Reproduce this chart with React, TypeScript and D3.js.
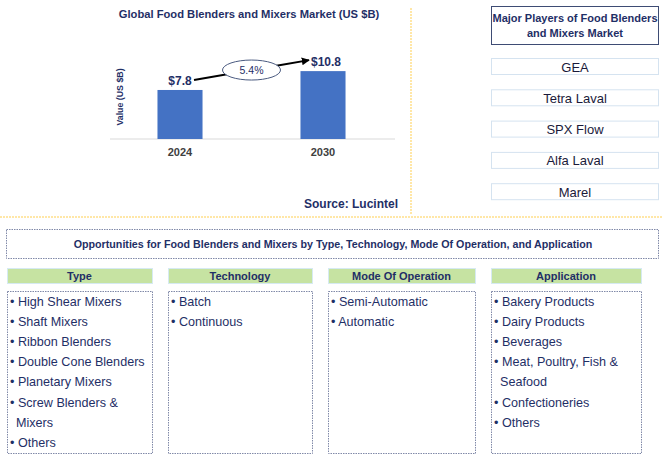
import { useEffect, useRef } from "react";
import * as d3 from "d3";

const years = ["2024", "2030"];
const values = [7.8, 10.8];
const valueLabels = ["$7.8", "$10.8"];
const cagr = "5.4%";
const players = ["GEA", "Tetra Laval", "SPX Flow", "Alfa Laval", "Marel"];
const segHeads = ["Type", "Technology", "Mode Of Operation", "Application"];
const segItems = [
  ["High Shear Mixers", "Shaft Mixers", "Ribbon Blenders", "Double Cone Blenders", "Planetary Mixers", "Screw Blenders &|Mixers", "Others"],
  ["Batch", "Continuous"],
  ["Semi-Automatic", "Automatic"],
  ["Bakery Products", "Dairy Products", "Beverages", "Meat, Poultry, Fish &|Seafood", "Confectioneries", "Others"],
];

const W = 664, H = 460;
const navy = "#1F2F66";
const font = "'Liberation Sans', Arial, sans-serif";

export default function App() {
  const svgRef = useRef<SVGSVGElement>(null);

  useEffect(() => {
    const svg = d3.select(svgRef.current);
    svg.selectAll("*").remove();
    svg.style("font-family", font);

    svg.append("defs").append("marker")
      .attr("id", "arr")
      .attr("viewBox", "0 0 10 10")
      .attr("refX", 9).attr("refY", 5)
      .attr("markerWidth", 4).attr("markerHeight", 4)
      .attr("orient", "auto")
      .append("path").attr("d", "M0,0L10,5L0,10z").attr("fill", "#000");

    // bar chart
    const x = d3.scaleBand().domain(years).range([108.5, 394.5]).paddingInner(0.685).paddingOuter(0.3425);
    const y = d3.scaleLinear().domain([0, 14]).range([139, 51]);

    svg.append("text").attr("x", 249).attr("y", 18).attr("text-anchor", "middle")
      .attr("font-size", 11.2).attr("font-weight", "bold").attr("fill", navy)
      .text("Global Food Blenders and Mixers Market (US $B)");

    svg.append("line").attr("x1", 110).attr("x2", 395).attr("y1", y(0)).attr("y2", y(0))
      .attr("stroke", "#d9d9d9").attr("stroke-width", 1);

    svg.selectAll(".bar").data(values).enter().append("rect")
      .attr("x", (d, i) => x(years[i])!)
      .attr("y", d => y(d))
      .attr("width", x.bandwidth())
      .attr("height", d => y(0) - y(d))
      .attr("fill", "#4472C4");

    svg.selectAll(".vl").data(values).enter().append("text")
      .attr("x", (d, i) => x(years[i])! + x.bandwidth() / 2 + (i === 1 ? 3 : 0))
      .attr("y", d => y(d) - 5)
      .attr("text-anchor", "middle").attr("font-size", 12).attr("font-weight", "bold").attr("fill", navy)
      .text((d, i) => valueLabels[i]);

    svg.selectAll(".yr").data(years).enter().append("text")
      .attr("x", d => x(d)! + x.bandwidth() / 2)
      .attr("y", y(0) + 17)
      .attr("text-anchor", "middle").attr("font-size", 11).attr("font-weight", "bold").attr("fill", "#404040")
      .text(d => d);

    svg.append("text").attr("transform", `translate(123,${(y(0) + 55) / 2}) rotate(-90)`)
      .attr("text-anchor", "middle").attr("font-size", 8.8).attr("font-weight", "bold").attr("fill", navy)
      .text("Value (US $B)");

    const x1 = x(years[0])! + x.bandwidth() / 2 + 14, y1 = y(values[0]) - 10;
    const x2 = x(years[1])! + x.bandwidth() / 2 - 14, y2 = y(values[1]) - 11;
    svg.append("line").attr("x1", x1).attr("y1", y1).attr("x2", x2).attr("y2", y2)
      .attr("stroke", "#000").attr("stroke-width", 2).attr("marker-end", "url(#arr)");
    svg.append("ellipse").attr("cx", (x1 + x2) / 2).attr("cy", (y1 + y2) / 2).attr("rx", 29).attr("ry", 10)
      .attr("fill", "#fff").attr("stroke", "#4a5a80").attr("stroke-width", 1);
    svg.append("text").attr("x", (x1 + x2) / 2).attr("y", (y1 + y2) / 2 + 4).attr("text-anchor", "middle")
      .attr("font-size", 10.5).attr("fill", navy).text(cagr);

    svg.append("text").attr("x", 398).attr("y", 208).attr("text-anchor", "end")
      .attr("font-size", 12).attr("font-weight", "bold").attr("fill", navy).text("Source: Lucintel");

    // separators
    svg.append("line").attr("x1", 411).attr("x2", 411).attr("y1", 8).attr("y2", 215)
      .attr("stroke", "#FFE08A").attr("stroke-width", 1.5).attr("stroke-dasharray", "2,1");
    svg.append("line").attr("x1", 0).attr("x2", 662).attr("y1", 217).attr("y2", 217)
      .attr("stroke", "#FFE08A").attr("stroke-width", 1.5).attr("stroke-dasharray", "2,1");

    // players
    svg.append("rect").attr("x", 491.5).attr("y", 6.5).attr("width", 167).attr("height", 38)
      .attr("fill", "#fff").attr("stroke", "#3E4C74").attr("stroke-width", 1);
    ["Major Players of Food Blenders", "and Mixers Market"].forEach((t, i) => {
      svg.append("text").attr("x", 575).attr("y", 22 + i * 15).attr("text-anchor", "middle")
        .attr("font-size", 11).attr("font-weight", "bold").attr("fill", navy).text(t);
    });
    players.forEach((p, i) => {
      const top = 58.5 + i * 31.3;
      svg.append("rect").attr("x", 491.5).attr("y", top).attr("width", 167).attr("height", 16)
        .attr("fill", "#fff").attr("stroke", "#D5E3F0").attr("stroke-width", 1);
      svg.append("text").attr("x", 575).attr("y", top + 13).attr("text-anchor", "middle")
        .attr("font-size", 13).attr("fill", "#1a1a3a").text(p);
    });

    // opportunities
    const dot = "#8089A8";
    svg.append("rect").attr("x", 6.5).attr("y", 229.5).attr("width", 652).attr("height", 29)
      .attr("fill", "none").attr("stroke", dot).attr("stroke-dasharray", "1.5,1");
    svg.append("text").attr("x", 333).attr("y", 248).attr("text-anchor", "middle")
      .attr("font-size", 10.7).attr("font-weight", "bold").attr("fill", navy)
      .text("Opportunities for Food Blenders and Mixers by Type, Technology, Mode Of Operation, and Application");

    const colX = [7, 168, 328, 491];
    const colW = [145, 144, 147, 150];
    segHeads.forEach((h, i) => {
      svg.append("rect").attr("x", colX[i] + 0.5).attr("y", 268.5).attr("width", colW[i]).attr("height", 15)
        .attr("fill", "#C6E3A2").attr("stroke", "#D6EAF2").attr("stroke-width", 1);
      svg.append("text").attr("x", colX[i] + colW[i] / 2).attr("y", 280).attr("text-anchor", "middle")
        .attr("font-size", 11).attr("font-weight", "bold").attr("fill", navy).text(h);
      svg.append("rect").attr("x", colX[i] + 0.5).attr("y", 291.5).attr("width", colW[i]).attr("height", 162)
        .attr("fill", "none").attr("stroke", dot).attr("stroke-dasharray", "1.5,1");
      let line = 0;
      segItems[i].forEach(item => {
        item.split("|").forEach((part, k) => {
          svg.append("text").attr("x", colX[i] + (k === 0 ? 3 : 9)).attr("y", 305.5 + line * 20.2)
            .attr("font-size", 12.6).attr("fill", navy)
            .text(k === 0 ? "\u2022 " + part : part);
          line++;
        });
      });
    });
  }, []);

  return (
    <svg ref={svgRef} width={W} height={H}
      style={{ position: "absolute", left: 0, top: 0, background: "#fff" }} />
  );
}
